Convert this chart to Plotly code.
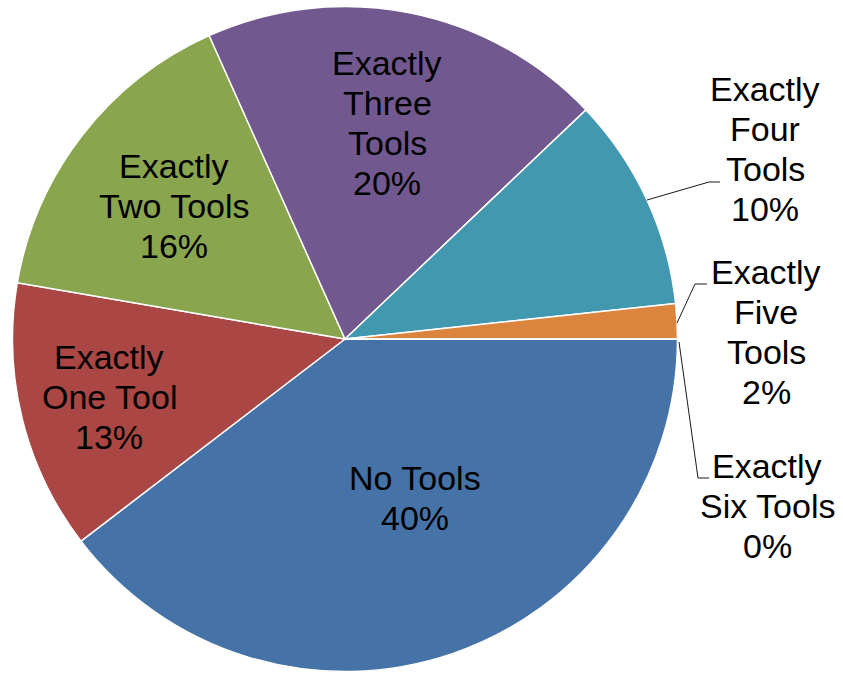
import plotly.graph_objects as go

# Share of respondents by number of tools used
labels = ["No Tools", "Exactly One Tool", "Exactly Two Tools", "Exactly Three Tools",
          "Exactly Four Tools", "Exactly Five Tools", "Exactly Six Tools"]
values = [39.6, 13.1, 15.6, 19.6, 10.4, 1.7, 0.0]
# Line-broken forms of the labels as they are printed on the chart
label_lines = [["No Tools"], ["Exactly", "One Tool"], ["Exactly", "Two Tools"],
               ["Exactly", "Three", "Tools"], ["Exactly", "Four", "Tools"],
               ["Exactly", "Five", "Tools"], ["Exactly", "Six Tools"]]
colors = ["#4572A7", "#AA4643", "#89A54E", "#71588F", "#4198AF", "#DB843D", "#7F7F7F"]

W, H = 843, 673
CX, CY, R = 345, 339, 332.5
LINE_GAP = 40.3  # px between label lines

# label block centres in pixels (x from left, y from top)
label_pos = [(415, 498), (109, 397), (174, 206), (387, 123),
             (765, 149), (766, 332), (767, 506)]
# leader lines for the labels placed outside the pie
leaders = {
    4: [(647, 200), (709, 182), (720, 182)],
    5: [(677, 323), (695, 284), (707, 284)],
    6: [(679, 342), (698, 478), (709, 478)],
}

total = sum(values)
font = dict(family="Liberation Sans, Arial, sans-serif", size=34, color="#000000")

fig = go.Figure(go.Pie(
    labels=labels,
    values=values,
    sort=False,
    direction="clockwise",
    rotation=90,
    marker=dict(colors=colors, line=dict(color="#FFFFFF", width=1.5)),
    textinfo="none",
    hoverinfo="label+percent",
    showlegend=False,
    domain=dict(x=[(CX - R) / W, (CX + R) / W],
                y=[(H - CY - R) / H, (H - CY + R) / H]),
))

annotations = []
for i, (lines, v) in enumerate(zip(label_lines, values)):
    pct = f"{round(100 * v / total):d}%"
    rows = lines + [pct]
    px, py = label_pos[i]
    top = py - LINE_GAP * (len(rows) - 1) / 2
    for k, row in enumerate(rows):
        annotations.append(dict(
            x=px / W, y=1 - (top + k * LINE_GAP) / H, xref="paper", yref="paper",
            text=row, showarrow=False,
            xanchor="center", yanchor="middle", align="center", font=font,
        ))

shapes = []
for i, pts in leaders.items():
    path = "M " + " L ".join(f"{x / W},{1 - y / H}" for x, y in pts)
    shapes.append(dict(type="path", xref="paper", yref="paper", path=path,
                       line=dict(color="#1a1a1a", width=1)))

fig.update_layout(
    width=W, height=H,
    margin=dict(l=0, r=0, t=0, b=0),
    paper_bgcolor="#FFFFFF",
    plot_bgcolor="#FFFFFF",
    annotations=annotations,
    shapes=shapes,
)

fig.write_html("out.html")
